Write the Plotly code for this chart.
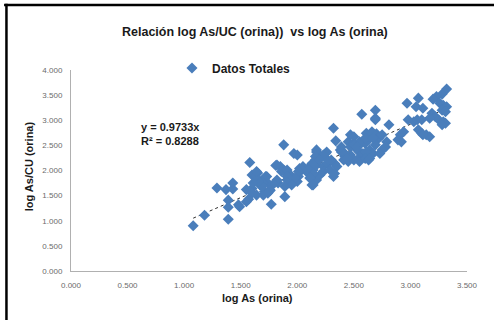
import numpy as np
import plotly.graph_objects as go

# log As (orina)
x_vals = [
    1.08, 1.18, 1.39, 1.39, 1.29, 1.37, 1.43, 1.43, 1.39, 1.48, 1.49, 1.58, 1.60, 1.65, 1.73, 1.55,
    1.60, 1.57, 1.55, 1.68, 1.67, 1.71, 1.76, 1.70, 1.77, 1.81, 1.83, 1.74,
    2.57, 2.69, 2.32, 2.34, 1.88, 1.97, 1.88, 1.94, 1.91, 1.82, 1.79, 1.89, 2.02, 2.05, 2.17, 2.25,
    2.16, 2.20, 2.11, 2.14, 2.17, 2.23, 2.27, 2.13, 2.20, 2.23, 2.08, 2.38, 2.39, 2.45, 2.47, 2.50,
    2.53, 2.55, 2.42, 2.47, 2.50, 2.54, 2.45, 2.55, 2.60, 2.63, 2.64, 2.67, 2.70, 2.72, 2.69, 2.64,
    2.63, 2.67, 2.33, 2.30, 2.35, 2.13, 2.17, 2.01, 2.00,
    3.32, 3.28, 3.23, 3.20, 3.07, 2.97, 3.05, 3.11, 3.26, 3.29, 3.32, 3.28, 3.31, 3.19, 3.22, 3.17,
    3.25, 3.29, 3.31, 3.28, 2.98, 3.03, 3.06, 3.10, 3.07, 3.10, 3.14, 3.17, 3.11, 2.94, 2.91, 2.89,
    2.92, 2.81, 2.79, 2.78, 2.75, 2.73, 2.69, 2.69,
    2.47, 2.50, 2.61, 2.66, 2.75, 2.55, 2.60, 2.67, 2.50, 2.53, 2.55, 2.58, 2.61, 2.60, 2.63,
    2.39, 2.42, 2.41, 2.44, 2.26, 2.23, 2.17, 2.16, 2.19, 2.27, 2.13, 2.10, 2.14, 2.11, 2.14,
    2.29, 2.32, 2.33, 2.04, 2.01, 1.98, 2.00, 1.82, 1.85, 1.86, 1.91, 1.91, 1.94, 1.92, 1.95, 1.89,
    2.64, 1.72, 1.70, 1.69, 1.76, 1.66, 1.63, 1.61, 1.60, 1.64, 1.74, 1.64,
]
# log As/CU (orina)
y_vals = [
    0.90, 1.11, 1.03, 1.41, 1.65, 1.62, 1.63, 1.75, 1.27, 1.32, 1.28, 2.16, 1.91, 1.95, 1.88, 1.62,
    1.64, 1.43, 1.38, 1.78, 1.71, 1.58, 1.60, 1.51, 1.33, 2.10, 1.75, 1.75,
    3.12, 3.04, 2.84, 2.59, 2.51, 2.34, 2.01, 1.91, 1.81, 1.81, 1.73, 1.48, 2.04, 2.08, 2.37, 2.34,
    2.21, 2.24, 2.08, 2.01, 2.11, 2.08, 2.14, 1.88, 1.91, 1.98, 1.98, 2.41, 2.47, 2.57, 2.47, 2.54,
    2.41, 2.51, 2.28, 2.31, 2.21, 2.24, 2.18, 2.18, 2.54, 2.61, 2.67, 2.71, 2.73, 2.64, 2.51, 2.41,
    2.31, 2.34, 2.14, 2.21, 2.08, 1.71, 1.81, 1.88, 1.78,
    3.62, 3.52, 3.47, 3.42, 3.44, 3.34, 3.27, 3.24, 3.34, 3.30, 3.27, 3.20, 3.17, 3.14, 3.07, 3.04,
    3.01, 2.97, 2.94, 2.91, 3.01, 2.97, 3.01, 3.01, 2.81, 2.74, 2.71, 2.67, 2.71, 2.77, 2.71, 2.61,
    2.57, 2.91, 2.57, 2.47, 2.41, 2.34, 3.20, 3.01,
    2.71, 2.67, 2.74, 2.77, 2.71, 2.57, 2.64, 2.64, 2.51, 2.47, 2.37, 2.34, 2.37, 2.24, 2.21,
    2.37, 2.34, 2.21, 2.24, 2.37, 2.31, 2.41, 2.28, 2.21, 2.21, 2.14, 2.01, 1.94, 1.85, 1.71,
    2.01, 1.88, 1.94, 2.01, 1.98, 1.85, 2.31, 2.11, 2.08, 1.98, 2.01, 1.88, 1.81, 1.75, 1.71, 1.68,
    2.24, 1.88, 1.75, 1.68, 1.61, 1.78, 1.88, 1.75, 1.55, 1.51, 1.55, 1.98,
]
slope = 0.9733
r2 = 0.8288
x_ticks = [0.0, 0.5, 1.0, 1.5, 2.0, 2.5, 3.0, 3.5]
y_ticks = [0.0, 0.5, 1.0, 1.5, 2.0, 2.5, 3.0, 3.5, 4.0]

x_arr = np.array(x_vals)
x_line = np.array([x_arr.min(), x_arr.max()])
y_line = slope * x_line

fig = go.Figure()
fig.add_trace(go.Scatter(
    x=x_line, y=y_line, mode="lines", showlegend=False,
    line=dict(color="#303030", width=1, dash="dot"), hoverinfo="skip"))
fig.add_trace(go.Scatter(
    x=x_vals, y=y_vals, mode="markers", name="Datos Totales",
    marker=dict(symbol="diamond", size=8.5, color="#4a7ebb", line=dict(width=0))))

tick_font = dict(family="Liberation Sans, Arial, sans-serif", size=8, color="#6b6b6b")
bold = "Liberation Sans, Arial, sans-serif"
frame = dict(color="black", width=2.5)

fig.update_layout(
    width=494, height=320,
    margin=dict(l=71, r=27, t=70, b=49),
    paper_bgcolor="white", plot_bgcolor="white",
    showlegend=True,
    legend=dict(x=0.255, y=1.01, xanchor="left", yanchor="middle",
                font=dict(family=bold, size=12, color="#1a1a1a", weight="bold"),
                bgcolor="rgba(0,0,0,0)", itemwidth=30),
    xaxis=dict(range=[0, 3.5], tickvals=x_ticks, ticktext=[f"{v:.3f}" for v in x_ticks],
               showgrid=False, zeroline=False, showline=True, linecolor="#b0b0b0", linewidth=1,
               ticks="", tickfont=tick_font, ticklabelstandoff=6),
    yaxis=dict(range=[0, 4], tickvals=y_ticks, ticktext=[f"{v:.3f}" for v in y_ticks],
               showgrid=False, zeroline=False, showline=True, linecolor="#b0b0b0", linewidth=1,
               ticks="", tickfont=tick_font, ticklabelstandoff=6),
    shapes=[
        dict(type="line", xref="paper", yref="paper", x0=-0.163, x1=-0.163, y0=-0.3, y1=1.329,
             line=frame, layer="below"),
        dict(type="line", xref="paper", yref="paper", x0=-0.169, x1=1.1, y0=1.323, y1=1.323,
             line=frame, layer="below"),
    ],
    annotations=[
        dict(text="Relación log As/UC (orina))\u00a0\u00a0vs log As (orina)", xref="paper", yref="paper",
             x=0.465, y=1.19, xanchor="center", yanchor="middle", showarrow=False,
             font=dict(family=bold, size=12.5, color="#1a1a1a", weight="bold")),
        dict(text=f"y = {slope}x<br>R² = {r2}", xref="paper", yref="paper",
             x=0.172, y=0.682, xanchor="left", yanchor="middle", align="left", showarrow=False,
             font=dict(family=bold, size=11, color="#1a1a1a", weight="bold")),
        dict(text="log As/CU (orina)", xref="paper", yref="paper", textangle=-90,
             x=-0.104, y=0.52, xanchor="center", yanchor="middle", showarrow=False,
             font=dict(family=bold, size=11, color="#1a1a1a", weight="bold")),
        dict(text="log As (orina)", xref="paper", yref="paper",
             x=0.47, y=-0.134, xanchor="center", yanchor="middle", showarrow=False,
             font=dict(family=bold, size=11, color="#1a1a1a", weight="bold")),
    ],
)

fig.write_html("out.html", config={"displayModeBar": False},
               post_script="document.body.style.margin='0px';")
